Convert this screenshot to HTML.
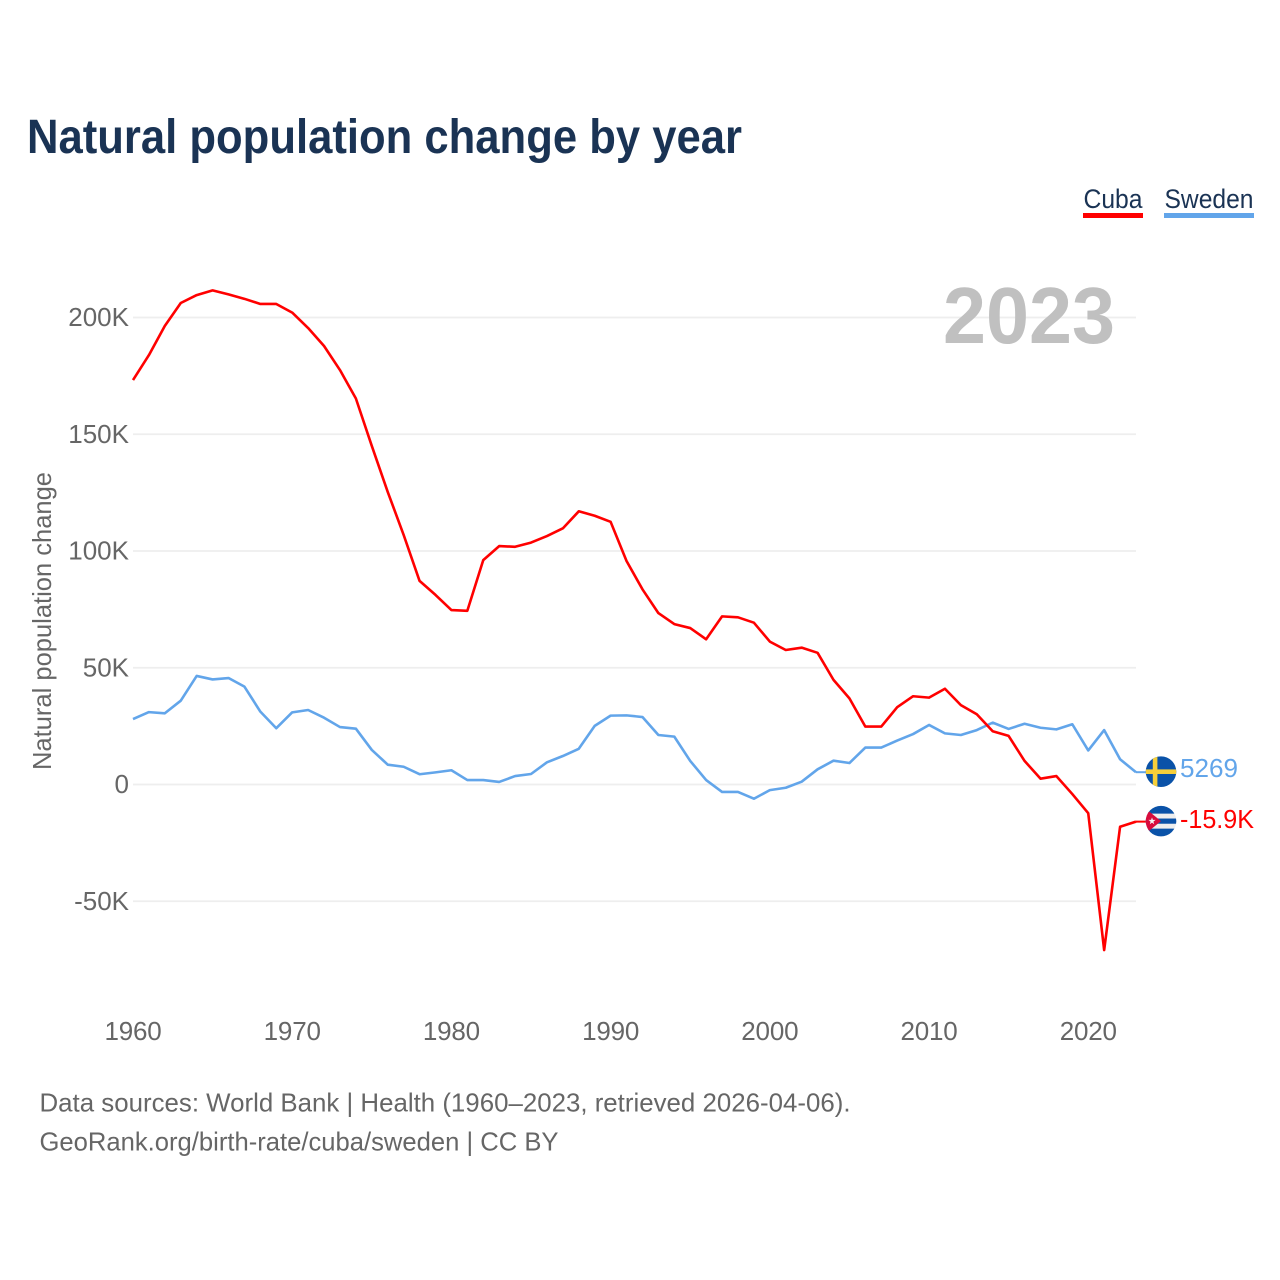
<!DOCTYPE html>
<html lang="en">
<head>
<meta charset="utf-8">
<title>Natural population change by year</title>
<style>
  html, body { margin: 0; padding: 0; background: #fff; }
  svg { display: block; font-family: "Liberation Sans", sans-serif; }
</style>
</head>
<body>
<svg id="chart" xmlns="http://www.w3.org/2000/svg" width="1280" height="1280" viewBox="0 0 1280 1280">
  <defs>
    <clipPath id="flag-clip"><circle cx="0" cy="0" r="15.3"/></clipPath>
  </defs>
  <rect x="0" y="0" width="1280" height="1280" fill="#fff"/>
  <text x="27" y="153" font-size="48" font-weight="700" fill="#1a3354" textLength="715" lengthAdjust="spacingAndGlyphs">Natural population change by year</text>

  <g>
    <g>
      <text x="1083.5" y="208" font-size="27" fill="#1a3354" textLength="59" lengthAdjust="spacingAndGlyphs">Cuba</text>
      <rect x="1083" y="213" width="60" height="5" fill="#ff0000"/>
    </g>
    <g>
      <text x="1164.5" y="208" font-size="27" fill="#1a3354" textLength="89" lengthAdjust="spacingAndGlyphs">Sweden</text>
      <rect x="1164" y="213" width="90" height="5" fill="#62a5ea"/>
    </g>
  </g>

  <g id="grid"></g>
  <g id="y-ticks"></g>
  <g id="x-ticks"></g>

  <text transform="translate(51 770) rotate(-90)" font-size="26" fill="#666" textLength="298" lengthAdjust="spacingAndGlyphs">Natural population change</text>
  <text x="943" y="343" font-size="80" font-weight="700" fill="#c0c0c0" textLength="172" lengthAdjust="spacingAndGlyphs">2023</text>

  <g id="series"></g>

  <g id="flag-sweden">
    <g clip-path="url(#flag-clip)">
      <rect x="-16" y="-16" width="32" height="32" fill="#0a52a8"/>
      <rect x="-8.2" y="-16" width="4.6" height="32" fill="#f6cf3a"/>
      <rect x="-16" y="-2.3" width="32" height="4.6" fill="#f6cf3a"/>
    </g>
  </g>
  <g id="flag-cuba">
    <g clip-path="url(#flag-clip)">
      <rect x="-16" y="-16" width="32" height="32" fill="#eeeeee"/>
      <rect x="-16" y="-16" width="32" height="8.5" fill="#0a52a8"/>
      <rect x="-16" y="-2.6" width="32" height="5.2" fill="#0a52a8"/>
      <rect x="-16" y="7.5" width="32" height="8.5" fill="#0a52a8"/>
      <polygon points="-16,-13 0,0 -16,13" fill="#d80b3c"/>
      <polygon points="-9,-3.8 -8.1,-1.2 -5.4,-1.2 -7.6,0.5 -6.8,3.1 -9,1.5 -11.2,3.1 -10.4,0.5 -12.6,-1.2 -9.9,-1.2" fill="#f4f4f4"/>
    </g>
  </g>
  <text id="label-sweden" x="1180" y="777" font-size="26" fill="#62a5ea" textLength="58" lengthAdjust="spacingAndGlyphs"></text>
  <text id="label-cuba" x="1180" y="828" font-size="26" fill="#ff0000" textLength="74" lengthAdjust="spacingAndGlyphs"></text>

  <text x="39.5" y="1111.5" font-size="26" fill="#666" textLength="811" lengthAdjust="spacingAndGlyphs">Data sources: World Bank | Health (1960–2023, retrieved 2026-04-06).</text>
  <text x="39.5" y="1150.5" font-size="26" fill="#666" textLength="519" lengthAdjust="spacingAndGlyphs">GeoRank.org/birth-rate/cuba/sweden | CC BY</text>
</svg>

<script>
const startYear = 1960;
const xTickYears = [1960, 1970, 1980, 1990, 2000, 2010, 2020];
const yTickValues = [-50, 0, 50, 100, 150, 200];
const cubaValues = [
  173.2, 183.9, 196.4, 206.2, 209.6, 211.6, 209.9, 208.0, 205.8, 205.8,
  202.1, 195.5, 187.8, 177.5, 165.3, 145.0, 125.3, 106.9, 87.2, 81.2,
  74.7, 74.4, 96.1, 102.1, 101.8, 103.6, 106.4, 109.7, 117.0, 115.1,
  112.5, 95.7, 83.6, 73.4, 68.7, 67.0, 62.2, 72.0, 71.6, 69.3,
  61.2, 57.6, 58.6, 56.4, 44.8, 36.9, 24.8, 24.8, 33.1, 37.8,
  37.2, 41.0, 34.0, 30.1, 22.8, 20.8, 10.1, 2.5, 3.6, -4.1,
  -12.3, -70.9, -18.1, -15.9
];
const swedenValues = [
  28.0, 31.0, 30.5, 35.9, 46.5, 45.0, 45.6, 41.9, 31.2, 24.1,
  30.9, 31.9, 28.6, 24.6, 23.9, 14.8, 8.5, 7.6, 4.4, 5.2,
  6.1, 1.9, 1.9, 1.1, 3.6, 4.5, 9.5, 12.2, 15.3, 25.1,
  29.5, 29.6, 28.9, 21.2, 20.5, 10.1, 1.9, -3.2, -3.2, -6.1,
  -2.4, -1.4, 1.2, 6.5, 10.2, 9.2, 15.8, 15.8, 18.8, 21.6,
  25.5, 21.9, 21.2, 23.3, 26.5, 23.8, 26.0, 24.3, 23.6, 25.8,
  14.6, 23.3, 10.8, 5.269
];

const NS = 'http://www.w3.org/2000/svg';
const xScale = year => 133 + (year - 1960) * (1003 / 63);
const yScale = value => 784.5 - value * 2.335;
const formatTick = v => (v === 0 ? '0' : v + 'K');
const formatEnd = v => (Math.abs(v) >= 10 ? (Math.round(v * 10) / 10) + 'K' : String(Math.round(v * 1000)));

function make(tag, attrs, parent) {
  const el = document.createElementNS(NS, tag);
  Object.keys(attrs).forEach(k => el.setAttribute(k, attrs[k]));
  parent.appendChild(el);
  return el;
}

const gridGroup = document.getElementById('grid');
const yGroup = document.getElementById('y-ticks');
yTickValues.forEach(v => {
  const y = yScale(v);
  const line = make('line', { x1: 133, x2: 1136, y1: y, y2: y, stroke: '#eeeeee', 'stroke-width': 1.8 }, gridGroup);
  
  
  const label = make('text', { x: 129, y: y + 8.5, 'text-anchor': 'end', 'font-size': 26, 'letter-spacing': '0', fill: '#666' }, yGroup);
  label.textContent = formatTick(v);
  
  
});

const xGroup = document.getElementById('x-ticks');
xTickYears.forEach(year => {
  const label = make('text', { x: xScale(year), y: 1040, 'text-anchor': 'middle', 'font-size': 26, 'letter-spacing': '-0.2', fill: '#666' }, xGroup);
  label.textContent = String(year);
  
  
});

function linePoints(values) {
  return values.map((v, i) => xScale(startYear + i).toFixed(2) + ',' + yScale(v).toFixed(2)).join(' ');
}

const seriesGroup = document.getElementById('series');

const swedenLine = make('polyline', { points: linePoints(swedenValues), fill: 'none', stroke: '#62a5ea', 'stroke-width': 2.6, 'stroke-linejoin': 'round' }, seriesGroup);



const cubaLine = make('polyline', { points: linePoints(cubaValues), fill: 'none', stroke: '#ff0000', 'stroke-width': 2.6, 'stroke-linejoin': 'round' }, seriesGroup);



const lastSweden = swedenValues[swedenValues.length - 1];
const lastCuba = cubaValues[cubaValues.length - 1];
const lastX = xScale(startYear + swedenValues.length - 1);

const swedenStub = make('line', { x1: lastX, x2: lastX + 10, y1: yScale(lastSweden), y2: yScale(lastSweden), stroke: '#62a5ea', 'stroke-width': 2 }, seriesGroup);



const cubaStub = make('line', { x1: lastX, x2: lastX + 10, y1: yScale(lastCuba), y2: yScale(lastCuba), stroke: '#ff0000', 'stroke-width': 2 }, seriesGroup);



document.getElementById('flag-sweden').setAttribute('transform', 'translate(' + (lastX + 25) + ' ' + (yScale(lastSweden) - 0.5) + ')');
document.getElementById('flag-cuba').setAttribute('transform', 'translate(' + (lastX + 25) + ' ' + (yScale(lastCuba) - 0.5) + ')');

const swedenLabel = document.getElementById('label-sweden');
swedenLabel.textContent = formatEnd(lastSweden);
swedenLabel.setAttribute('y', yScale(lastSweden) + 5);

const cubaLabel = document.getElementById('label-cuba');
cubaLabel.textContent = formatEnd(lastCuba);
cubaLabel.setAttribute('y', yScale(lastCuba) + 6.5);
</script>
</body>
</html>
